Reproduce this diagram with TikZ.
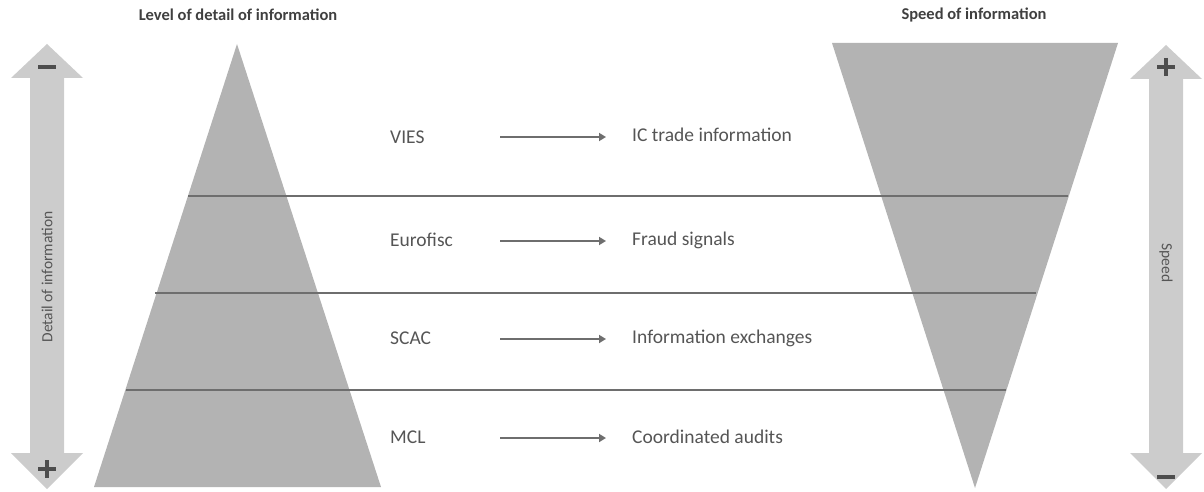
\documentclass[tikz,border=0pt]{standalone}
\usepackage{fontspec}
\setmainfont{Carlito}
\usetikzlibrary{arrows.meta}
\definecolor{tri}{HTML}{B3B3B3}
\definecolor{arr}{HTML}{CCCCCC}
\definecolor{sep}{HTML}{6E6E6E}
\definecolor{txt}{HTML}{555555}
\definecolor{sign}{HTML}{4D4D4D}
\tikzset{
  lbl/.style={font=\fontsize{19.5}{22}\selectfont, text=txt, inner sep=0pt, anchor=west},
  ttl/.style={font=\fontsize{16.5}{19}\selectfont\bfseries, text=black!75, inner sep=0pt},
  side/.style={font=\fontsize{15.5}{18}\selectfont, text=txt, inner sep=0pt},
  flow/.style={draw=sep, line width=2.6pt, -{Triangle[length=7pt,width=8pt]}},
  sepline/.style={draw=sep, line width=2pt},
  signline/.style={draw=sign, line width=3.2pt}
}
\begin{document}
\begin{tikzpicture}[x=1pt,y=-1pt]
\useasboundingbox (0,0) rectangle (1204,492);
% triangles
\fill[tri] (237,44) -- (381,487) -- (94,487) -- cycle;
\fill[tri] (832,43) -- (1118,43) -- (975,488) -- cycle;
% separator lines
\coordinate (l1a) at (188,196); \coordinate (l1b) at (1068,196);
\coordinate (l2a) at (155,293); \coordinate (l2b) at (1036,293);
\coordinate (l3a) at (126,390); \coordinate (l3b) at (1006,390);
\draw[sepline] (l1a) -- (l1b);
\draw[sepline] (l2a) -- (l2b);
\draw[sepline] (l3a) -- (l3b);
% double arrows
\fill[arr] (47,44) -- (83,78) -- (64,78) -- (64,453) -- (83,453) -- (47,489) -- (11,453) -- (30,453) -- (30,78) -- (11,78) -- cycle;
\fill[arr] (1166,45) -- (1202,79) -- (1183,79) -- (1183,453) -- (1202,453) -- (1166,489) -- (1130,453) -- (1149,453) -- (1149,79) -- (1130,79) -- cycle;
% signs
\draw[signline] (38,67) -- (56,67);
\draw[signline] (38,469) -- (56,469) (47,460) -- (47,478);
\draw[signline] (1157,67) -- (1175,67) (1166,58) -- (1166,76);
\draw[signline] (1157,477) -- (1175,477);
% side texts
\node[side, rotate=90] (dinfo) at (47,277) {Detail of information};
\node[side, rotate=-90] (speed) at (1166,263) {Speed};
% titles
\node[ttl] (t1) at (238,15) {Level of detail of information};
\node[ttl] (t2) at (974,15) {Speed of information};
% rows
\node[lbl] (vies) at (390,137) {VIES};
\node[lbl] (ict) at (632,135) {IC trade information};
\node[lbl] (euro) at (390,240) {Eurofisc};
\node[lbl] (fraud) at (632,240) {Fraud signals};
\node[lbl] (scac) at (390,338) {SCAC};
\node[lbl] (inex) at (632,338) {Information exchanges};
\node[lbl] (mcl) at (390,437) {MCL};
\node[lbl] (coord) at (632,437) {Coordinated audits};
\coordinate (a1s) at (500,137); \coordinate (a1e) at (606,137);
\coordinate (a2s) at (500,241); \coordinate (a2e) at (606,241);
\coordinate (a3s) at (500,339); \coordinate (a3e) at (606,339);
\coordinate (a4s) at (500,438); \coordinate (a4e) at (606,438);
\draw[flow] (a1s) -- (a1e);
\draw[flow] (a2s) -- (a2e);
\draw[flow] (a3s) -- (a3e);
\draw[flow] (a4s) -- (a4e);
\end{tikzpicture}
\end{document}
